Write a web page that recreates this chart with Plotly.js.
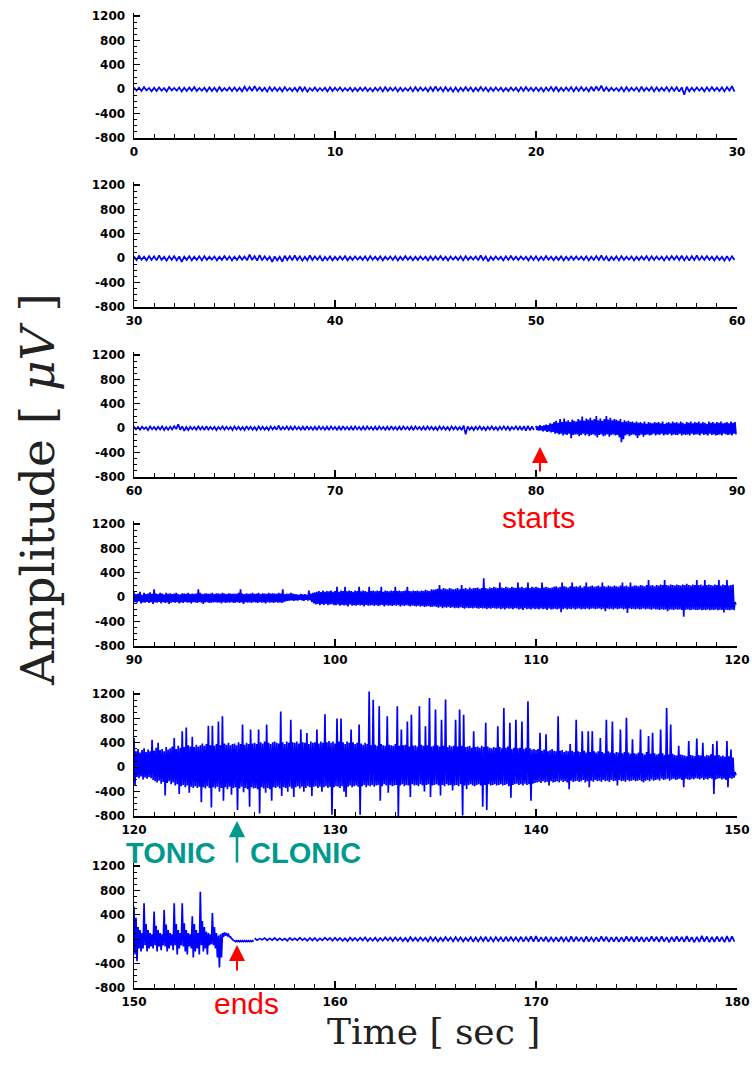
<!DOCTYPE html>
<html><head><meta charset="utf-8">
<script src="https://cdn.plot.ly/plotly-3.0.1.min.js"></script>
<style>html,body{margin:0;padding:0;background:#fff}#chart{width:752px;height:1077px}</style>
</head><body><div id="chart"></div>
<script>
// ---------- DATA (µV) ----------
const panelStart = [0, 30, 60, 90, 120, 150];
const yTickVals = [-800, -400, 0, 400, 800, 1200];
const yTickText = ['-800', '-400', '0', '400', '800', '1200'];

// Panel 1: 0-30 s, per 0.25 s bin: max (Hi) and min (Lo)
const p1Hi = [
30,25,35,20, 25,30,20,35, 20,30,25,30, 35,20,25,30, 25,35,20,30,
30,25,40,35, 50,30,25,35, 30,25,35,20, 25,40,30,20, 30,20,25,30,
25,30,20,25, 20,25,30,20, 25,30,35,25, 30,25,20,30, 35,30,25,35,
45,30,35,25, 30,25,35,30, 25,35,30,25, 30,25,20,30, 25,30,35,25,
30,25,30,35, 40,25,30,35, 30,35,25,40, 45,60,30,25, 20,30,35,25,
30,40,25,35, 30,25,35,30, 35,30,40,25, 30,25,30,35, 25,30,35,50];
const p1Lo = [
-25,-30,-20,-35, -30,-25,-35,-20, -25,-35,-30,-25, -30,-25,-35,-30, -35,-30,-25,-30,
-30,-35,-25,-30, -25,-30,-40,-30, -30,-35,-25,-30, -35,-30,-40,-25, -30,-25,-35,-30,
-25,-30,-25,-35, -30,-25,-30,-35, -25,-35,-30,-25, -35,-30,-25,-35, -30,-25,-35,-30,
-25,-35,-30,-40, -35,-30,-25,-35, -30,-25,-35,-30, -25,-35,-30,-25, -35,-30,-25,-30,
-30,-35,-25,-30, -35,-30,-25,-35, -30,-25,-35,-30, -25,-35,-30,-25, -30,-35,-30,-25,
-35,-30,-25,-35, -30,-25,-35,-30, -40,-90,-35,-30, -25,-35,-30,-25, -30,-35,-25,-40];

// Panel 2: 30-60 s, per 0.25 s bin
const p2Hi = [
30,40,25,35, 30,45,25,30, 35,30,25,35, 25,30,35,25, 30,25,35,30,
25,35,30,60, 35,50,30,25, 30,25,40,35, 45,30,25,45, 30,35,25,30,
25,30,35,25, 30,25,30,35, 25,30,25,30, 30,25,35,25, 25,30,25,30,
30,35,25,30, 25,30,35,25, 30,45,30,25, 30,25,30,35, 25,30,25,30,
30,25,35,25, 25,30,25,30, 30,25,30,25, 35,45,30,25, 30,35,25,30,
25,30,35,30, 30,25,30,35, 35,40,30,35, 45,30,35,25, 30,25,35,30];
const p2Lo = [
-30,-25,-35,-30, -35,-30,-40,-30, -35,-60,-30,-35, -30,-35,-30,-25, -35,-30,-25,-35,
-30,-25,-35,-30, -40,-35,-30,-60, -35,-55,-30,-35, -30,-40,-35,-30, -25,-45,-30,-35,
-30,-25,-35,-30, -25,-30,-35,-25, -30,-35,-25,-30, -35,-30,-25,-35, -30,-25,-35,-30,
-25,-30,-35,-25, -30,-35,-30,-25, -35,-30,-50,-30, -25,-35,-30,-25, -30,-25,-35,-30,
-35,-30,-25,-35, -30,-35,-30,-25, -25,-30,-35,-30, -30,-35,-45,-30, -35,-30,-25,-35,
-30,-25,-35,-30, -25,-35,-30,-25, -30,-35,-40,-30, -35,-30,-25,-35, -30,-40,-35,-30];

// Panel 3a: 60-80 s, per 0.2 s bin
const p3aHi = [
30,20,25,15,30, 20,25,30,20,25, 35,65,30,20,25, 20,30,25,35,20, 25,20,30,25,20,
30,25,20,35,25, 20,30,25,20,30, 25,45,20,30,25, 30,20,25,35,20, 25,30,20,25,30,
20,25,35,20,25, 30,20,25,30,20, 25,30,20,25,35, 20,25,30,20,25, 30,20,25,30,25,
20,30,25,20,30, 25,20,45,30,20, 25,30,20,25,30, 20,25,30,25,20, 30,25,35,40,30];
const p3aLo = [
-20,-25,-15,-30,-20, -25,-20,-30,-25,-20, -15,-25,-45,-30,-20, -25,-20,-30,-25,-20, -30,-20,-25,-20,-30,
-20,-25,-30,-20,-25, -30,-20,-25,-30,-20, -25,-30,-20,-25,-30, -20,-25,-30,-20,-25, -30,-20,-25,-30,-20,
-25,-30,-20,-25,-30, -20,-25,-30,-20,-25, -30,-20,-25,-30,-20, -25,-30,-20,-25,-30, -20,-25,-30,-20,-25,
-30,-20,-25,-30,-20, -25,-30,-100,-25,-30, -20,-25,-30,-20,-25, -30,-20,-25,-30,-20, -25,-30,-40,-35,-30];
// Panel 3b: 80-90 s (seizure onset), per 0.1 s bin
const p3bHi = [
40,30,50,35,45,60,50,80,70,100,
120,90,150,100,160,110,130,100,140,120,
110,150,130,190,120,160,140,170,130,150,
200,130,160,120,150,200,140,170,130,150,
140,120,150,100,130,110,120,100,110,90,
110,90,100,80,110,70,100,90,80,100,
90,100,80,110,70,90,100,80,110,90,
100,80,110,90,70,100,90,110,80,100,
90,110,80,100,90,70,110,90,100,80,
100,90,110,80,90,100,80,110,90,100];
const p3bLo = [
-30,-40,-35,-50,-40,-60,-50,-70,-60,-90,
-80,-100,-90,-120,-100,-110,-90,-165,-110,-100,
-100,-130,-110,-90,-120,-100,-130,-110,-100,-120,
-150,-110,-100,-130,-120,-100,-140,-110,-100,-120,
-110,-150,-230,-180,-120,-100,-130,-110,-100,-120,
-160,-120,-100,-140,-110,-100,-120,-110,-90,-120,
-100,-110,-90,-120,-100,-110,-90,-120,-100,-110,
-110,-90,-120,-100,-110,-100,-120,-90,-110,-100,
-100,-120,-90,-110,-100,-120,-90,-110,-100,-120,
-110,-100,-120,-90,-100,-110,-100,-120,-90,-100];

// Panel 4: 90-120 s, per 0.1 s bin
const p4Hi = [
80,50,60,90,40,70,50,60,80,55,
130,60,50,70,60,45,70,55,65,50,
60,70,50,45,65,60,55,70,50,60,
55,60,130,70,50,60,65,55,60,70,
50,65,60,55,70,60,50,65,60,55,
60,55,70,130,60,50,65,55,60,70,
55,60,70,50,65,60,55,70,60,65,
60,55,70,60,130,50,60,55,70,60,
50,45,40,55,45,50,40,110,60,70,
80,90,100,85,110,90,100,95,110,90,
100,170,90,110,100,170,95,110,100,90,
110,100,170,95,110,100,90,170,100,110,
95,110,100,170,90,110,100,95,110,100,
170,100,110,95,100,110,170,100,95,110,
100,110,95,110,100,120,110,100,130,120,
130,140,200,130,150,140,130,150,140,130,
140,150,130,200,140,150,130,160,140,150,
150,160,140,150,310,150,140,160,150,170,
160,150,240,160,150,170,160,150,170,160,
150,240,160,170,150,160,240,150,170,160,
170,160,150,240,160,170,160,150,160,170,
180,160,170,240,180,170,160,180,240,170,
180,170,190,160,180,240,170,180,190,170,
180,190,170,240,180,170,190,180,170,190,
180,170,190,240,180,190,170,240,180,190,
190,180,200,190,180,200,280,190,200,180,
200,190,210,200,280,200,190,210,200,190,
210,200,190,210,200,220,200,190,210,200,
280,200,210,190,280,200,210,200,190,210,
200,280,190,210,200,280,190,200,210,-80];
const p4Lo = [
-80,-90,-70,-100,-85,-90,-75,-95,-80,-110,
-85,-90,-75,-100,-80,-95,-85,-110,-90,-80,
-90,-80,-100,-85,-95,-75,-90,-85,-100,-80,
-85,-95,-80,-90,-110,-85,-80,-95,-90,-85,
-80,-90,-85,-100,-80,-95,-85,-90,-80,-95,
-90,-80,-95,-85,-110,-80,-90,-85,-95,-80,
-85,-95,-80,-90,-85,-100,-80,-90,-85,-95,
-80,-90,-85,-95,-80,-70,-60,-55,-50,-60,
-50,-55,-45,-50,-60,-45,-55,-50,-80,-100,
-120,-110,-130,-115,-125,-110,-130,-120,-115,-130,
-130,-120,-140,-125,-135,-130,-150,-120,-140,-130,
-140,-125,-135,-130,-150,-125,-140,-135,-130,-145,
-130,-145,-135,-125,-150,-130,-140,-135,-145,-130,
-140,-130,-150,-135,-145,-130,-140,-150,-135,-145,
-150,-140,-155,-145,-160,-150,-145,-160,-155,-150,
-160,-170,-155,-180,-165,-170,-160,-175,-165,-180,
-170,-180,-165,-175,-190,-170,-180,-175,-185,-170,
-180,-190,-175,-185,-180,-195,-180,-190,-175,-185,
-190,-180,-195,-185,-200,-180,-190,-185,-195,-180,
-185,-200,-190,-210,-180,-195,-190,-200,-185,-195,
-190,-200,-185,-195,-190,-210,-185,-200,-195,-190,
-200,-190,-245,-195,-185,-200,-190,-195,-185,-200,
-190,-185,-200,-190,-195,-185,-200,-190,-185,-195,
-190,-185,-200,-190,-230,-185,-195,-190,-200,-185,
-195,-190,-185,-200,-190,-260,-185,-195,-190,-200,
-190,-200,-195,-185,-200,-190,-195,-205,-190,-200,
-200,-210,-195,-205,-200,-230,-205,-200,-210,-195,
-205,-200,-210,-320,-205,-200,-215,-205,-200,-210,
-210,-200,-215,-205,-210,-200,-215,-205,-210,-200,
-215,-205,-210,-250,-205,-210,-215,-205,-210,-120];

// Panel 5: 120-150 s, per 0.1 s bin
const p5Hi = [
480,260,300,240,280,310,250,290,260,450,
270,320,400,280,300,260,330,290,310,340,
480,300,350,320,590,330,650,360,340,500,
330,370,340,360,390,350,380,680,360,680,
350,380,750,360,835,390,370,400,360,380,
390,360,410,380,700,370,400,380,620,390,
400,380,620,410,390,420,700,400,380,410,
420,400,390,915,410,380,420,400,780,410,
400,420,390,620,410,400,560,380,420,400,
410,620,390,420,400,870,410,430,400,420,
390,800,420,800,410,380,420,400,620,410,
380,400,700,390,370,400,380,1240,360,1105,
370,350,1000,380,360,350,835,370,360,350,
380,1000,350,620,360,370,750,340,860,350,
360,340,1000,370,350,670,360,1135,340,350,
945,360,340,780,350,1110,330,360,340,350,
780,340,945,350,860,330,340,350,320,590,
330,340,320,350,330,730,340,320,310,330,
320,670,330,310,970,320,340,730,300,320,
780,310,320,750,300,320,1080,310,290,300,
280,300,565,270,290,540,260,280,300,270,
260,835,270,280,250,270,260,380,270,250,
780,260,250,590,270,240,590,250,590,260,
240,260,480,250,230,780,260,240,750,230,
250,240,620,230,250,810,240,220,460,230,
220,240,620,230,210,250,510,220,565,230,
210,220,620,230,200,970,210,700,220,200,
190,350,210,200,190,180,430,200,190,180,
470,200,190,400,180,200,190,210,380,190,
430,200,180,190,170,430,180,290,160,-80];
const p5Lo = [
-300,-160,-180,-150,-200,-170,-190,-160,-180,-210,
-230,-250,-220,-270,-240,-465,-260,-230,-280,-250,
-300,-280,-440,-310,-290,-330,-300,-420,-320,-340,
-310,-340,-320,-575,-330,-350,-310,-340,-660,-330,
-350,-320,-400,-340,-550,-330,-360,-320,-450,-340,
-330,-700,-350,-320,-410,-340,-360,-650,-330,-350,
-340,-360,-760,-330,-350,-420,-340,-360,-550,-330,
-340,-320,-350,-470,-330,-340,-400,-320,-350,-490,
-330,-310,-350,-320,-400,-340,-310,-330,-470,-320,
-310,-340,-320,-400,-330,-310,-340,-320,-780,-330,
-310,-320,-340,-310,-400,-490,-320,-300,-330,-310,
-300,-320,-780,-310,-290,-330,-300,-310,-290,-320,
-300,-290,-550,-310,-280,-300,-420,-290,-310,-300,
-290,-800,-300,-280,-310,-290,-300,-490,-280,-300,
-290,-310,-280,-300,-400,-290,-280,-490,-300,-290,
-280,-300,-465,-290,-310,-280,-300,-290,-380,-300,
-290,-310,-280,-790,-300,-360,-290,-280,-300,-310,
-290,-280,-300,-650,-290,-700,-280,-300,-290,-280,
-300,-290,-280,-300,-290,-280,-310,-500,-290,-280,
-270,-290,-280,-300,-270,-290,-280,-550,-270,-260,
-250,-240,-260,-230,-250,-240,-300,-230,-250,-240,
-230,-250,-220,-240,-230,-250,-360,-220,-240,-230,
-220,-240,-230,-210,-250,-230,-330,-220,-240,-210,
-230,-220,-240,-210,-230,-220,-240,-210,-230,-220,
-300,-210,-230,-220,-240,-210,-230,-220,-210,-230,
-220,-210,-230,-250,-220,-210,-230,-200,-220,-210,
-200,-220,-190,-210,-200,-190,-220,-200,-190,-210,
-200,-190,-210,-330,-190,-200,-210,-190,-200,-180,
-190,-200,-180,-210,-190,-200,-180,-190,-440,-200,
-190,-180,-200,-190,-210,-330,-180,-190,-170,-130];

// Panel 6a: 150-156 s (clonic ending), per 0.1 s bin
const p6aHi = [
535,350,200,150,100,590,250,150,100,80,
455,220,150,100,80,480,240,150,100,80,
590,250,150,100,590,260,150,100,80,375,
250,150,100,780,300,200,120,100,80,430,
200,100,60,80,100,110,100,80,40,0,
-25,-25,-25,-25,-25,-25,-25,-25,-25,-25];
const p6aLo = [
-250,-360,-150,-200,-150,-100,-200,-150,-120,-150,
-100,-200,-120,-180,-100,-120,-200,-150,-100,-180,
-100,-250,-150,-100,-120,-200,-250,-120,-150,-300,
-200,-150,-250,-100,-200,-150,-250,-100,-80,-100,
-150,-300,-465,-300,40,60,60,40,10,-20,
-40,-40,-40,-40,-40,-40,-40,-40,-40,-40];
// Panel 6b: 156-180 s, per 0.25 s bin
const p6bHi = [
15,10,20,15, 20,15,10,20, 15,25,15,20, 20,15,25,20, 25,20,15,25, 20,25,30,20,
25,20,30,25, 30,25,20,35, 25,30,25,35, 30,25,35,30, 35,30,25,35, 30,35,40,30,
35,30,40,35, 30,40,35,45, 50,35,40,30, 35,40,30,45, 40,35,45,30, 35,45,40,35,
40,35,45,40, 45,40,35,45, 40,45,35,40, 45,40,50,35, 40,55,45,40, 45,40,50,45];
const p6bLo = [
-15,-10,-20,-15, -20,-15,-25,-15, -20,-15,-25,-20, -25,-20,-15,-25, -20,-25,-30,-20, -25,-20,-30,-25,
-30,-25,-20,-30, -25,-30,-35,-25, -30,-25,-35,-30, -35,-30,-25,-35, -30,-35,-30,-40, -35,-30,-40,-35,
-30,-40,-35,-30, -35,-40,-30,-40, -40,-35,-45,-35, -40,-35,-45,-40, -35,-45,-40,-35, -40,-35,-45,-40,
-45,-40,-35,-45, -40,-45,-40,-35, -45,-40,-50,-40, -40,-45,-40,-50, -45,-40,-50,-45, -40,-50,-45,-40];

// ---------- BUILD ----------
const series = [
  {panel: 1, t0: 0,   dt: 0.25, hi: p1Hi,  lo: p1Lo},
  {panel: 2, t0: 30,  dt: 0.25, hi: p2Hi,  lo: p2Lo},
  {panel: 3, t0: 60,  dt: 0.2,  hi: p3aHi, lo: p3aLo},
  {panel: 3, t0: 80,  dt: 0.1,  hi: p3bHi, lo: p3bLo},
  {panel: 4, t0: 90,  dt: 0.1,  hi: p4Hi,  lo: p4Lo},
  {panel: 5, t0: 120, dt: 0.1,  hi: p5Hi,  lo: p5Lo},
  {panel: 6, t0: 150, dt: 0.1,  hi: p6aHi, lo: p6aLo},
  {panel: 6, t0: 156, dt: 0.25, hi: p6bHi, lo: p6bLo}
];

const W = 752, H = 1077;
const traces = series.map(s => {
  const x = [], y = [];
  for (let i = 0; i < s.hi.length; i++) {
    x.push(s.t0 + i * s.dt);            y.push(s.hi[i]);
    x.push(s.t0 + i * s.dt + s.dt / 2); y.push(s.lo[i]);
  }
  const k = s.panel === 1 ? '' : s.panel;
  return {x, y, xaxis: 'x' + k, yaxis: 'y' + k, type: 'scatter', mode: 'lines',
          line: {color: '#0000ff', width: 1.7, simplify: false}, hoverinfo: 'skip'};
});

const bottoms = [138, 307, 477, 646, 816, 988];
const plotH = 125;
const xDom = [134 / W, 737 / W];
const tickFont = {family: 'DejaVu Sans', size: 12, color: '#000', weight: 'bold'};

const layout = {
  width: W, height: H, margin: {l: 0, r: 0, t: 0, b: 0},
  paper_bgcolor: '#fff', plot_bgcolor: '#fff', showlegend: false,
  annotations: [], shapes: []
};

panelStart.forEach((t0, idx) => {
  const k = idx === 0 ? '' : (idx + 1);
  const b = bottoms[idx];
  layout['xaxis' + k] = {
    domain: xDom, range: [t0, t0 + 30], anchor: 'y' + k,
    showline: true, linecolor: '#000', linewidth: 2,
    ticks: 'inside', ticklen: 7, tickwidth: 1.3, tickcolor: '#000',
    tickmode: 'linear', tick0: 0, dtick: 10,
    minor: {ticks: 'inside', tickmode: 'linear', tick0: 0, dtick: 1, ticklen: 4, tickwidth: 1, tickcolor: '#000', showgrid: false},
    showgrid: false, zeroline: false, tickfont: tickFont, ticklabelstandoff: 2, fixedrange: true
  };
  layout['yaxis' + k] = {
    domain: [1 - b / H, 1 - (b - plotH) / H], range: [-800, 1250], anchor: 'x' + k,
    showline: true, linecolor: '#000', linewidth: 1.5,
    ticks: 'inside', ticklen: 6, tickwidth: 1.3, tickcolor: '#000',
    tickmode: 'array', tickvals: yTickVals, ticktext: yTickText,
    minor: {ticks: 'inside', tickmode: 'linear', tick0: 0, dtick: 100, ticklen: 3, tickwidth: 1, tickcolor: '#000', showgrid: false},
    showgrid: false, zeroline: false, tickfont: tickFont, ticklabelstandoff: 5, fixedrange: true
  };
});

const px = v => v / W, py = v => 1 - v / H;
const red = '#ff0000', teal = '#00998f';
layout.annotations.push(
  {xref: 'paper', yref: 'paper', x: px(38), y: py(490), text: 'Amplitude [ <i>μV</i> ]', textangle: -90,
   showarrow: false, font: {family: 'DejaVu Serif', size: 47, color: '#222'}, xanchor: 'center', yanchor: 'middle'},
  {xref: 'paper', yref: 'paper', x: px(433), y: py(1031), text: 'Time [ sec ]',
   showarrow: false, font: {family: 'DejaVu Serif', size: 36, color: '#222'}, xanchor: 'center', yanchor: 'middle'},
  {xref: 'paper', yref: 'paper', x: px(538), y: py(518), text: 'starts', showarrow: false,
   font: {family: 'Liberation Sans', size: 30, color: red}, xanchor: 'center', yanchor: 'middle'},
  {xref: 'paper', yref: 'paper', x: px(540), y: py(447), ax: 0, ay: 26, text: '', showarrow: true,
   arrowhead: 2, arrowsize: 1.6, arrowwidth: 2, arrowcolor: red},
  {xref: 'paper', yref: 'paper', x: px(246), y: py(1003), text: 'ends', showarrow: false,
   font: {family: 'Liberation Sans', size: 30, color: red}, xanchor: 'center', yanchor: 'middle'},
  {xref: 'paper', yref: 'paper', x: px(237), y: py(945), ax: 0, ay: 27, text: '', showarrow: true,
   arrowhead: 2, arrowsize: 1.6, arrowwidth: 2, arrowcolor: red},
  {xref: 'paper', yref: 'paper', x: px(218), y: py(853), text: '<b>TONIC</b>', showarrow: false,
   font: {family: 'Liberation Sans', size: 29, color: teal}, xanchor: 'right', yanchor: 'middle'},
  {xref: 'paper', yref: 'paper', x: px(248), y: py(853), text: '<b>CLONIC</b>', showarrow: false,
   font: {family: 'Liberation Sans', size: 29, color: teal}, xanchor: 'left', yanchor: 'middle'},
  {xref: 'paper', yref: 'paper', x: px(237), y: py(821), ax: 0, ay: 43, text: '', showarrow: true,
   arrowhead: 2, arrowsize: 1.3, arrowwidth: 2.5, arrowcolor: teal}
);

Plotly.newPlot('chart', traces, layout, {staticPlot: true, displayModeBar: false});
</script>
</body></html>
